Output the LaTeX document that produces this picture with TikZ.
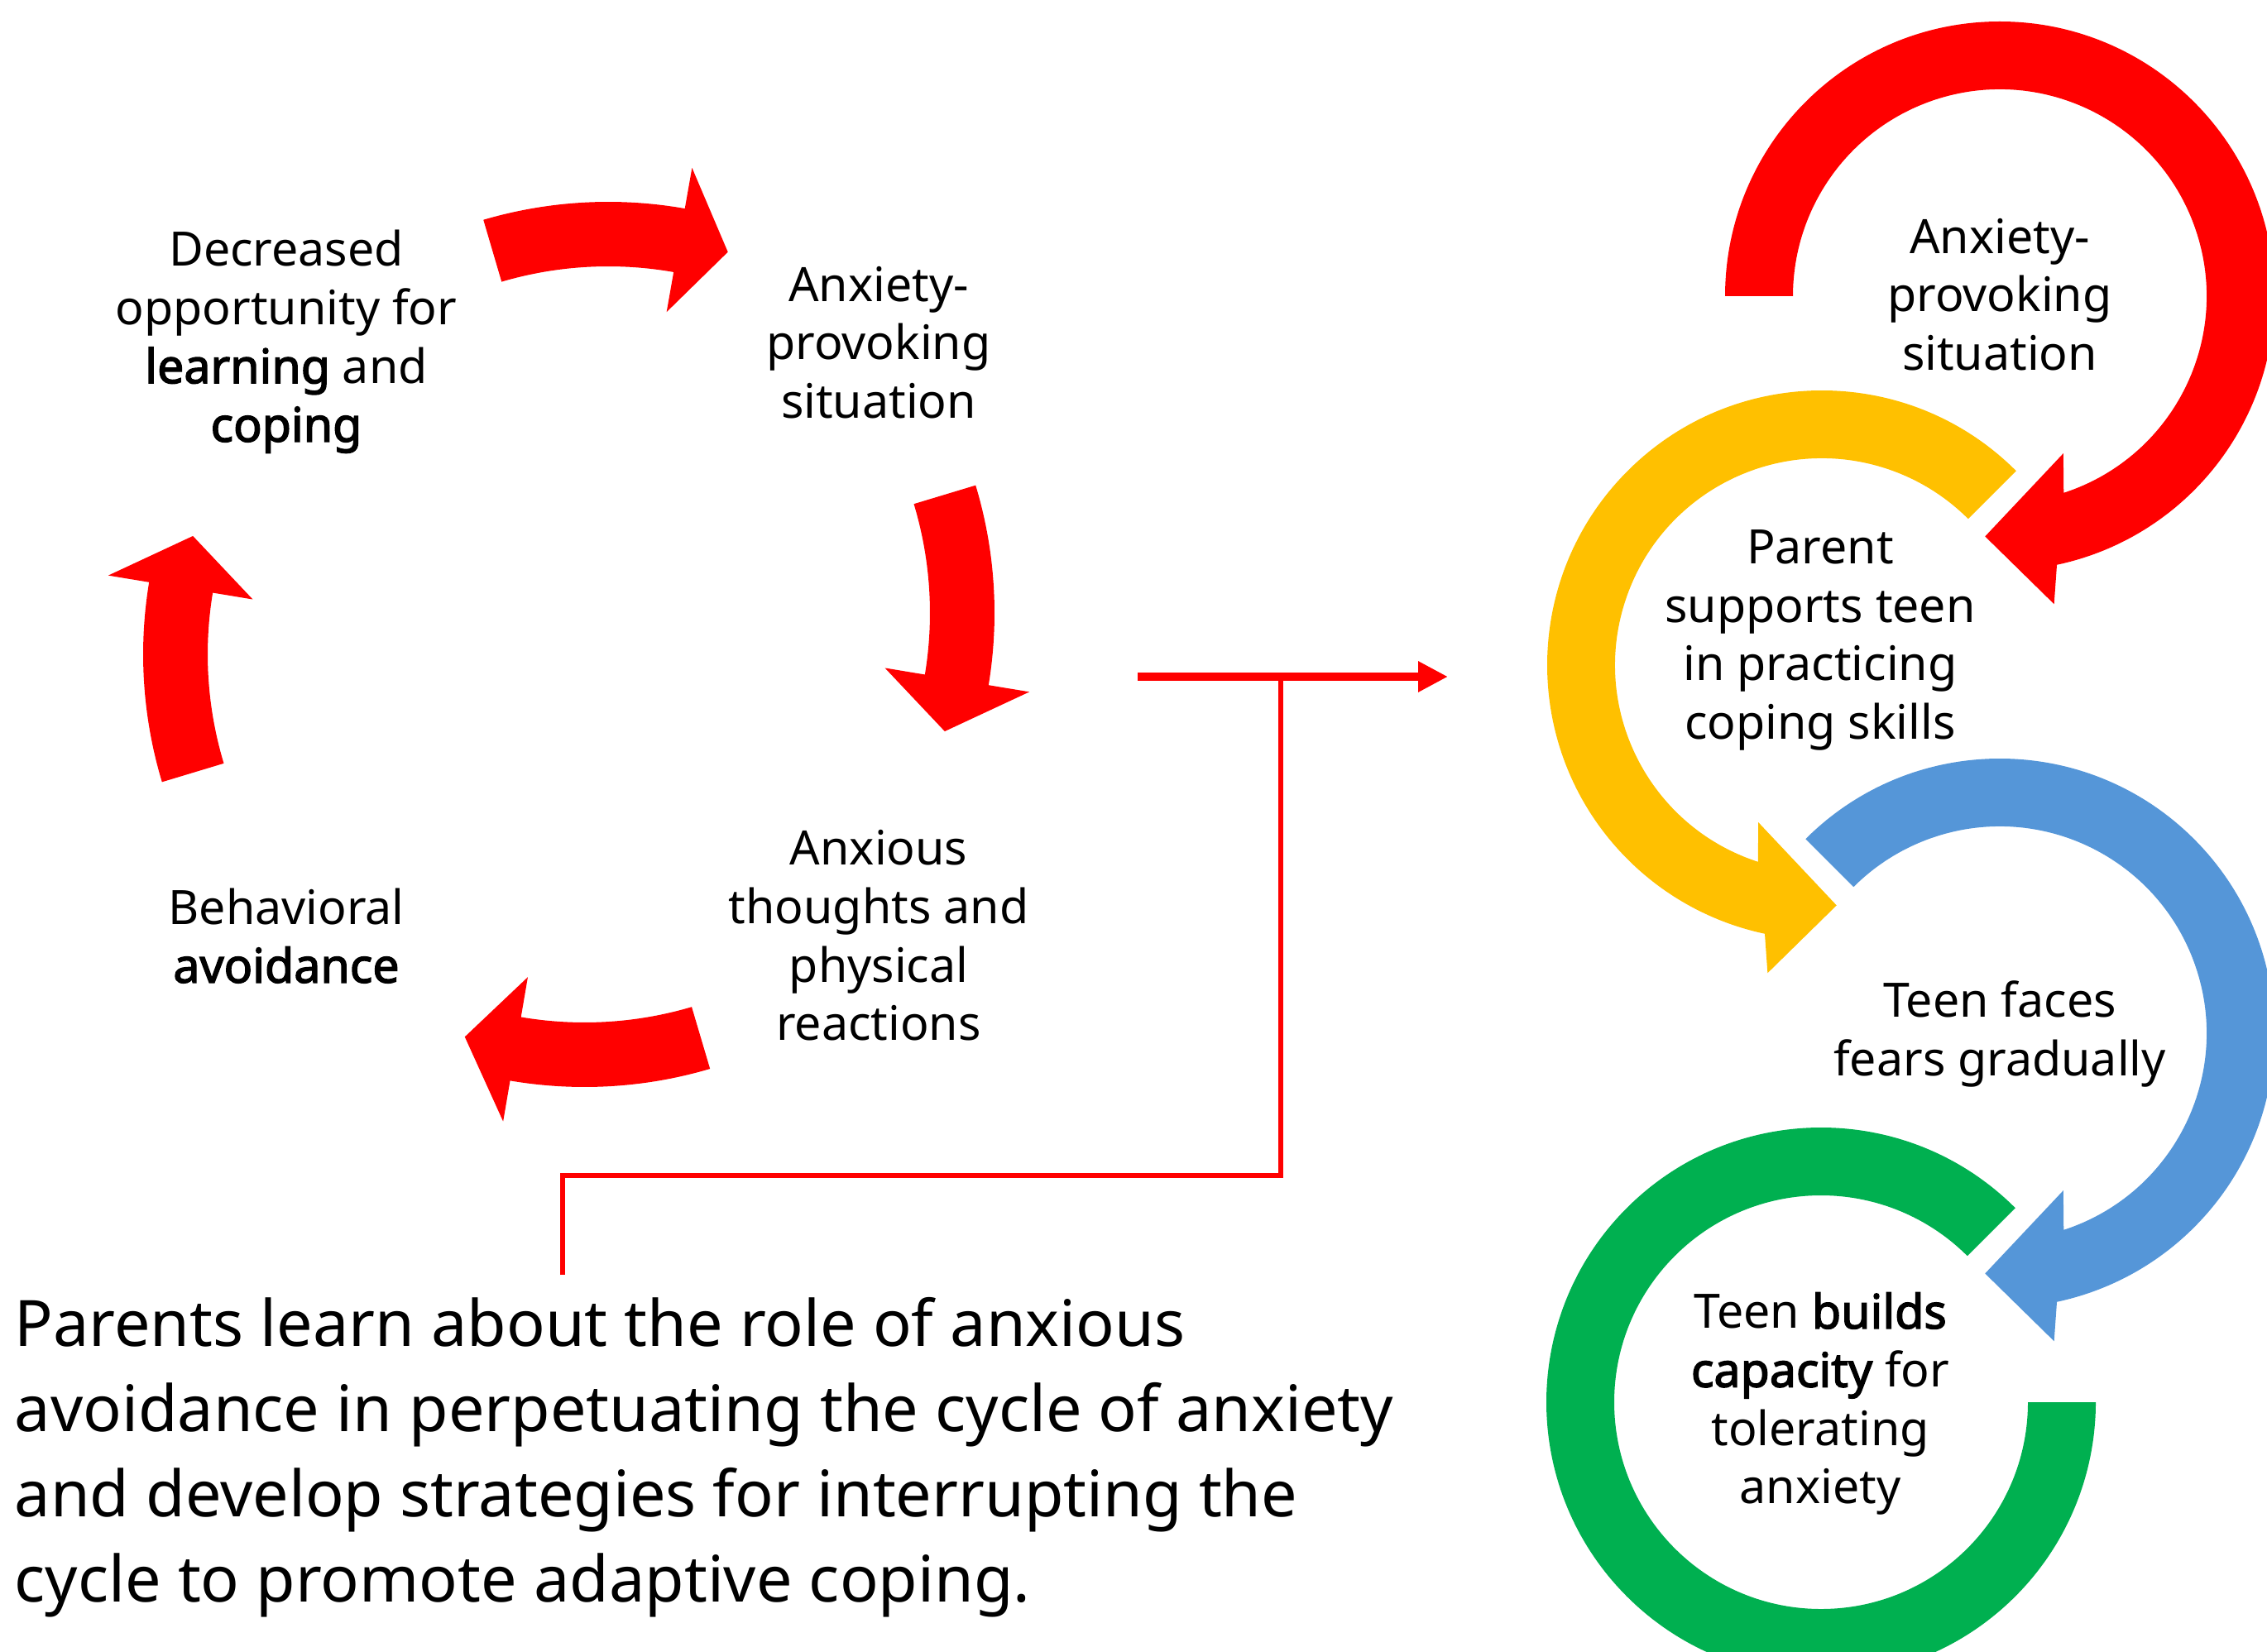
\documentclass[tikz,border=0pt]{standalone}
\usepackage{fontspec}
\setmainfont{Noto Sans}[AutoFakeBold=2.5]
\usetikzlibrary{arrows.meta, positioning, calc}
\definecolor{cyclered}{HTML}{FF0000}
\definecolor{ringyellow}{HTML}{FFC000}
\definecolor{ringblue}{HTML}{5596D8}
\definecolor{ringgreen}{HTML}{00B050}
\tikzset{
    steptext/.style={align=center, inner sep=0pt, font=\fontsize{16.3}{20.1}\selectfont},
    bodytext/.style={align=left, inner sep=0pt, anchor=north west, font=\fontsize{22}{29.3}\selectfont},
    link/.style={draw=cyclered, line width=1.5pt},
    arrow/.style={-{Triangle[length=3.6mm, width=3.5mm]}, draw=cyclered, line width=3pt}
}
% curved block arrow of the cycle: centre, start, end, tip
\newcommand{\cyclearrow}[4]{%
  \fill[cyclered, shift={(#1)}] (#2:5.34) arc[start angle=#2, end angle=#3, radius=5.34]
    -- (#3:5.84) -- (#4:4.95) -- (#3:4.07) -- (#3:4.56)
    arc[start angle=#3, end angle=#2, radius=4.56] -- cycle;}
% ring arrow: colour, centre, start, outer end, outer barb, tip, inner barb, inner end
\newcommand{\ringarrow}[8]{%
  \fill[#1, shift={(#2)}] (#3:3.32) arc[start angle=#3, end angle=#4, radius=3.32]
    -- (#5:3.78) -- (#6:2.91) -- (#7:2.05) -- (#8:2.50)
    arc[start angle=#8, end angle=#3, radius=2.50] -- cycle;}

\begin{document}
\begin{tikzpicture}
    \useasboundingbox (0,0) rectangle (27.40,19.96);
    \clip (0,0) rectangle (27.40,19.96);

    \cyclearrow{7.35,12.18}{106.4}{80}{73}
    \cyclearrow{6.68,12.55}{16.8}{-9.4}{-16.8}
    \cyclearrow{7.065,12.16}{-73.5}{-99.7}{-107}
    \cyclearrow{7.07,12.05}{196.8}{170.6}{163.2}

    \node[steptext] (decr) at (3.46,15.83) {Decreased\\opportunity for\\\textbf{learning} and\\\textbf{coping}};
    \node[steptext] (situ) at (10.62,15.82) {Anxiety-\\provoking\\situation};
    \node[steptext] (thought) at (10.62,8.65) {Anxious\\thoughts and\\physical\\reactions};
    \node[steptext] (avoid) at (3.46,8.65) {Behavioral\\\textbf{avoidance}};

    \ringarrow{cyclered}{24.17,16.38}{180}{-78}{-80}{-93.5}{-68}{-72}
    \ringarrow{ringyellow}{22.02,11.92}{45}{258}{260}{273.5}{248}{252}
    \ringarrow{ringblue}{24.17,7.47}{135}{-78}{-80}{-93.5}{-68}{-72}
    \fill[ringgreen, shift={(22.01,3.01)}] (45:3.32) arc[start angle=45, end angle=360, radius=3.32]
        -- (0:2.50) arc[start angle=360, end angle=45, radius=2.50] -- cycle;

    \node[steptext] (rsitu) at (24.17,16.40) {Anxiety-\\provoking\\situation};
    \node[steptext] (rparent) at (22.00,12.22) {Parent\\supports teen\\in practicing\\coping skills};
    \node[steptext] (rfaces) at (24.17,7.46) {Teen faces\\fears gradually};
    \node[steptext] (rbuilds) at (22.00,2.99) {Teen \textbf{builds}\\\textbf{capacity} for\\tolerating\\anxiety};

    \node[bodytext] (parent) at (0.17,4.28) {Parents learn about the role of anxious\\avoidance in perpetuating the cycle of anxiety\\and develop strategies for interrupting the\\cycle to promote adaptive coping.};

    \coordinate (cyc) at (13.75,11.78);
    \coordinate (rings) at (17.50,11.78);
    \coordinate (join) at (15.48,11.78);
    \coordinate (bend) at (15.48,5.75);
    \coordinate (tap) at (6.80,4.55);
    \draw[arrow] (cyc) -- (rings);
    \draw[link] (tap) |- (bend) -- (join);
\end{tikzpicture}
\end{document}
